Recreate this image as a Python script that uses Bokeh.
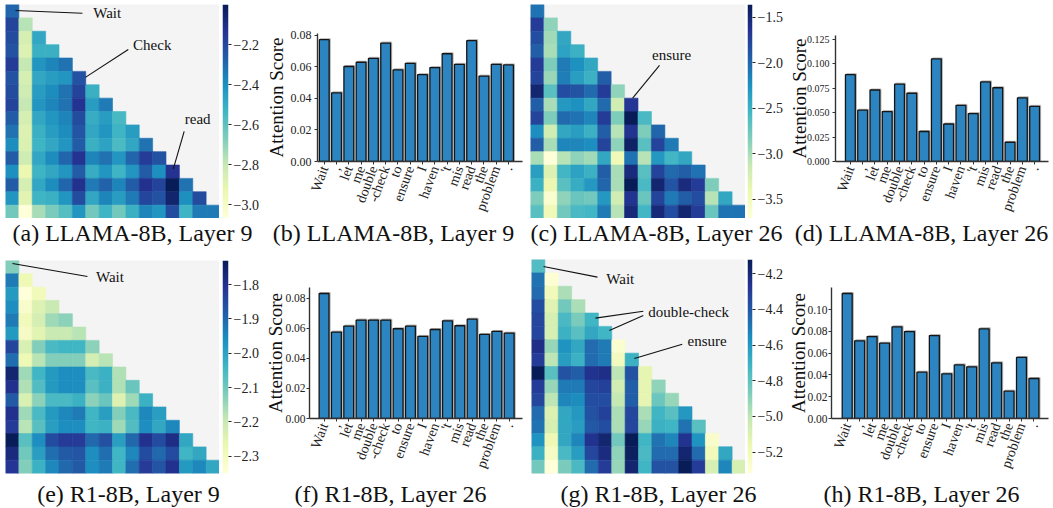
import numpy as np
from bokeh.plotting import figure
from bokeh.layouts import row, column
from bokeh.models import (ColumnDataSource, LinearColorMapper, FixedTicker,
                          CustomJSTickFormatter, Range1d, PrintfTickFormatter)
from bokeh.core.properties import value
from bokeh.transform import dodge
from bokeh.embed import file_html
from bokeh.resources import INLINE

# ---------------- data ----------------
tokens = ["Wait", ",", "let", "me", "double", "-check", "to", "ensure", "I",
          "haven", "'t", "mis", "read", "the", "problem", "."]

# log attention heatmaps (lower triangle, row i has i+1 values)
heat_llama_l9 = [
    [-2.29],
    [-2.18, -2.77],
    [-2.21, -2.85, -2.48],
    [-2.23, -2.88, -2.51, -2.51],
    [-2.16, -2.80, -2.42, -2.37, -2.32],
    [-2.23, -2.85, -2.48, -2.44, -2.42, -2.23],
    [-2.21, -2.83, -2.44, -2.39, -2.32, -2.18, -2.51],
    [-2.18, -2.80, -2.42, -2.37, -2.32, -2.13, -2.44, -2.34],
    [-2.26, -2.85, -2.48, -2.42, -2.37, -2.21, -2.50, -2.44, -2.55],
    [-2.32, -2.88, -2.51, -2.44, -2.39, -2.24, -2.48, -2.42, -2.53, -2.44],
    [-2.39, -2.87, -2.53, -2.48, -2.42, -2.26, -2.51, -2.46, -2.56, -2.48, -2.32],
    [-2.26, -2.83, -2.48, -2.39, -2.29, -2.13, -2.37, -2.32, -2.42, -2.29, -2.16, -2.23],
    [-2.40, -2.93, -2.53, -2.48, -2.42, -2.26, -2.50, -2.42, -2.53, -2.42, -2.26, -2.40, -2.13],
    [-2.26, -2.85, -2.48, -2.39, -2.29, -2.12, -2.34, -2.28, -2.37, -2.26, -2.12, -2.18, -2.00, -2.32],
    [-2.42, -2.90, -2.53, -2.51, -2.42, -2.21, -2.48, -2.37, -2.44, -2.34, -2.19, -2.23, -2.05, -2.40, -2.21],
    [-2.64, -3.07, -2.74, -2.66, -2.58, -2.42, -2.64, -2.53, -2.64, -2.51, -2.37, -2.42, -2.21, -2.53, -2.34, -2.34],
]
heat_llama_l26 = [
    [-2.07],
    [-1.71, -2.89],
    [-1.83, -2.96, -2.42],
    [-1.95, -3.00, -2.37, -2.49],
    [-1.71, -2.82, -2.11, -2.25, -2.42],
    [-1.76, -2.93, -2.14, -2.35, -2.49, -1.95],
    [-1.48, -2.65, -1.83, -1.88, -2.02, -1.71, -2.89],
    [-1.95, -3.00, -2.30, -2.25, -2.42, -2.02, -3.19, -1.67],
    [-1.76, -2.82, -2.02, -2.07, -2.18, -1.71, -2.82, -1.36, -2.58],
    [-2.23, -3.19, -2.42, -2.35, -2.49, -1.95, -3.05, -1.64, -2.82, -1.99],
    [-1.95, -3.00, -2.18, -2.18, -2.23, -1.76, -2.89, -1.43, -2.65, -1.76, -2.11],
    [-3.00, -3.71, -3.05, -2.89, -2.96, -2.42, -3.47, -2.07, -3.05, -2.30, -2.54, -2.42],
    [-2.35, -3.29, -2.54, -2.37, -2.49, -1.95, -3.00, -1.55, -2.65, -1.76, -2.02, -1.95, -2.07],
    [-2.49, -3.40, -2.65, -2.46, -2.30, -1.99, -3.00, -1.36, -2.58, -1.48, -1.88, -1.55, -1.71, -2.82],
    [-2.82, -3.62, -2.89, -2.72, -2.77, -2.30, -3.19, -1.64, -2.72, -1.76, -2.11, -1.95, -1.83, -3.05, -2.42],
    [-2.65, -3.47, -2.77, -2.58, -2.54, -2.11, -3.05, -1.52, -2.54, -1.52, -1.83, -1.48, -1.71, -2.72, -2.07, -2.07],
]
heat_r1_l9 = [
    [-2.12],
    [-1.93, -2.28],
    [-1.98, -2.35, -2.29],
    [-1.96, -2.32, -2.24, -2.20],
    [-1.93, -2.29, -2.22, -2.15, -2.13],
    [-1.98, -2.31, -2.25, -2.20, -2.20, -2.18],
    [-1.84, -2.23, -2.12, -2.05, -2.04, -2.04, -2.13],
    [-1.91, -2.28, -2.18, -2.12, -2.12, -2.12, -2.22, -2.18],
    [-1.76, -2.15, -2.04, -1.98, -1.96, -1.96, -2.05, -2.03, -2.17],
    [-1.80, -2.17, -2.06, -1.98, -1.96, -1.96, -2.07, -2.03, -2.17, -2.09],
    [-1.88, -2.23, -2.13, -2.05, -2.05, -2.03, -2.13, -2.09, -2.24, -2.15, -2.03],
    [-1.80, -2.15, -2.05, -1.98, -1.95, -1.93, -2.04, -1.99, -2.12, -2.05, -1.95, -1.99],
    [-1.82, -2.18, -2.07, -1.99, -1.96, -1.96, -2.04, -2.03, -2.15, -2.06, -1.96, -2.01, -1.95],
    [-1.73, -2.07, -1.96, -1.85, -1.82, -1.82, -1.90, -1.86, -1.99, -1.90, -1.80, -1.85, -1.79, -2.01],
    [-1.78, -2.10, -1.99, -1.91, -1.88, -1.87, -1.96, -1.91, -2.04, -1.95, -1.85, -1.90, -1.85, -2.04, -2.01],
    [-1.81, -2.12, -2.03, -1.95, -1.90, -1.88, -1.96, -1.93, -2.04, -1.91, -1.82, -1.87, -1.80, -1.98, -1.95, -2.01],
]
heat_r1_l26 = [
    [-4.76],
    [-4.48, -5.30],
    [-4.46, -5.20, -4.96],
    [-4.36, -5.12, -4.84, -4.96],
    [-4.34, -5.08, -4.74, -4.86, -4.72],
    [-4.34, -5.08, -4.70, -4.78, -4.66, -4.72],
    [-4.24, -4.92, -4.58, -4.66, -4.46, -4.50, -5.28],
    [-4.30, -5.00, -4.62, -4.70, -4.46, -4.50, -5.22, -4.70],
    [-4.12, -4.78, -4.38, -4.42, -4.26, -4.24, -5.00, -4.38, -5.14],
    [-4.30, -4.92, -4.50, -4.50, -4.34, -4.32, -5.06, -4.42, -5.14, -4.90],
    [-4.34, -5.00, -4.54, -4.56, -4.36, -4.36, -5.02, -4.42, -5.14, -4.82, -4.92],
    [-4.46, -5.10, -4.66, -4.60, -4.38, -4.32, -4.96, -4.34, -4.96, -4.72, -4.78, -4.60],
    [-4.48, -5.08, -4.66, -4.62, -4.40, -4.36, -4.96, -4.34, -4.92, -4.70, -4.72, -4.48, -4.78],
    [-4.58, -5.18, -4.66, -4.54, -4.26, -4.18, -4.84, -4.12, -4.72, -4.48, -4.54, -4.26, -4.58, -5.26],
    [-4.70, -5.24, -4.74, -4.62, -4.34, -4.22, -4.90, -4.14, -4.74, -4.46, -4.46, -4.18, -4.46, -5.20, -4.66],
    [-4.84, -5.32, -4.86, -4.74, -4.46, -4.30, -4.92, -4.18, -4.72, -4.38, -4.38, -4.12, -4.30, -5.08, -4.54, -5.08],
]
cbar_ticks_a = [-3.0, -2.8, -2.6, -2.4, -2.2]
cbar_ticks_c = [-3.5, -3.0, -2.5, -2.0, -1.5]
cbar_ticks_e = [-2.3, -2.2, -2.1, -2.0, -1.9, -1.8]
cbar_ticks_g = [-5.2, -5.0, -4.8, -4.6, -4.4, -4.2]

# attention scores (bar charts)
bar_llama_l9 = [0.0773, 0.0436, 0.0603, 0.0630, 0.0655, 0.0752, 0.0582, 0.0623,
                0.0551, 0.0596, 0.0684, 0.0617, 0.0767, 0.0542, 0.0617, 0.0613]
bar_llama_l26 = [0.0889, 0.0525, 0.0732, 0.0511, 0.0792, 0.0699, 0.0307, 0.1050,
                 0.0384, 0.0575, 0.0491, 0.0815, 0.0755, 0.0197, 0.0652, 0.0565]
bar_r1_l26_f = [0.0833, 0.0576, 0.0616, 0.0656, 0.0656, 0.0656, 0.0598, 0.0616,
                0.0547, 0.0593, 0.0651, 0.0618, 0.0662, 0.0560, 0.0580, 0.0569]
bar_r1_l26_h = [0.1147, 0.0713, 0.0752, 0.0691, 0.0841, 0.0798, 0.0425, 0.0761,
                0.0410, 0.0492, 0.0474, 0.0823, 0.0511, 0.0251, 0.0560, 0.0367]
yticks_b = [0.00, 0.02, 0.04, 0.06, 0.08]
yticks_d = [0.000, 0.025, 0.050, 0.075, 0.100, 0.125]
yticks_f = [0.00, 0.02, 0.04, 0.06, 0.08]
yticks_h = [0.00, 0.02, 0.04, 0.06, 0.08, 0.10]

captions_top = ["(a) LLAMA-8B, Layer 9", "(b) LLAMA-8B, Layer 9",
                "(c) LLAMA-8B, Layer 26", "(d) LLAMA-8B, Layer 26"]
captions_bottom = ["(e) R1-8B, Layer 9", "(f) R1-8B, Layer 26",
                   "(g) R1-8B, Layer 26", "(h) R1-8B, Layer 26"]

# ---------------- style ----------------
SERIF = "Liberation Serif"
YLGNBU = ["#ffffd9", "#edf8b1", "#c7e9b4", "#7fcdbb", "#41b6c4",
          "#1d91c0", "#225ea8", "#253494", "#081d58"]
TOTAL_W = 1053


def interp_palette(pal, n=256):
    rgb = np.array([[int(c[i:i + 2], 16) for i in (1, 3, 5)] for c in pal], float)
    xs = np.linspace(0, 1, len(pal))
    t = np.linspace(0, 1, n)
    out = np.stack([np.interp(t, xs, rgb[:, k]) for k in range(3)], 1)
    return ["#%02x%02x%02x" % tuple(int(round(v)) for v in r) for r in out]


PAL = interp_palette(YLGNBU)
N = len(tokens)


def base_fig(width, height, left, right, top, bottom, **kw):
    p = figure(width=width, height=height, toolbar_location=None, output_backend="svg",
               min_border_left=left, min_border_right=right,
               min_border_top=top, min_border_bottom=bottom, frame_align=False, **kw)
    p.grid.visible = False
    p.outline_line_color = None
    p.border_fill_color = "white"
    return p


def make_heatmap(mat, ticks, width, height, left, top, fh, cbw, cb_left, annots):
    fw = width - left
    p = base_fig(width, height, left, 0, top, height - top - fh,
                 x_range=Range1d(0, N), y_range=Range1d(N, 0),
                 x_axis_location=None, y_axis_location=None)
    p.background_fill_color = "#f4f4f4"
    xs, ys, vs = [], [], []
    for r, rv in enumerate(mat):
        for c, v in enumerate(rv):
            xs.append(c + 0.5)
            ys.append(r + 0.5)
            vs.append(v)
    lo, hi = min(vs), max(vs)
    mapper = LinearColorMapper(palette=PAL, low=lo, high=hi)
    src = ColumnDataSource(dict(x=xs, y=ys, v=vs))
    p.rect("x", "y", 1, 1, source=src,
           fill_color={"field": "v", "transform": mapper},
           line_color={"field": "v", "transform": mapper}, line_width=0.6)
    for txt, segs, tpos in annots:
        for (x0, y0, x1, y1) in segs:
            p.segment(x0=[x0], y0=[y0], x1=[x1], y1=[y1], line_color="#111111", line_width=1.1)
        p.text(x=[tpos[0]], y=[tpos[1]], text=[txt], text_font=value(SERIF),
               text_font_size="15px", text_align="center", text_baseline="middle",
               text_color="#111111")

    # colour bar as its own narrow figure
    cb = base_fig(cbw, height, cb_left, cbw - cb_left - 6, top, height - top - fh,
                  x_range=Range1d(0, 1), y_range=Range1d(lo, hi),
                  x_axis_location=None, y_axis_location="right")
    grad = np.linspace(lo, hi, 256).reshape(256, 1)
    cb.image(image=[grad], x=0, y=lo, dw=1, dh=hi - lo, color_mapper=mapper)
    ax = cb.yaxis[0]
    ax.ticker = FixedTicker(ticks=ticks)
    ax.formatter = CustomJSTickFormatter(
        code="return (tick < 0 ? '\\u2212' : '') + Math.abs(tick).toFixed(1);")
    ax.axis_line_color = None
    ax.major_tick_in = 0
    ax.major_tick_out = 3
    ax.major_tick_line_color = "#222222"
    ax.minor_tick_line_color = None
    ax.major_label_standoff = 2
    ax.major_label_text_font = SERIF
    ax.major_label_text_font_size = "14px"
    ax.major_label_text_color = "#222222"
    return p, cb


def make_bar(vals, yticks, fmt, yend, xr, width, height, left, fw, top, fh, tick_fs,
             tick_standoff, lab_standoff):
    p = base_fig(width, height, left, width - left - fw, top, height - top - fh,
                 x_range=Range1d(*xr), y_range=Range1d(0, yend))
    src = ColumnDataSource(dict(x=list(range(N)), top=vals))
    p.vbar(x=dodge("x", 0.09), top=dodge("top", yend / fh * 1.0), width=0.8, source=src,
           fill_color="#b5b5b5", line_color="#b5b5b5", line_width=1.0)
    p.vbar(x="x", top="top", width=0.8, source=src, fill_color="#2c84c0",
           line_color="#151515", line_width=1.3)
    for ax in (p.xaxis[0], p.yaxis[0]):
        ax.axis_line_color = "#333333"
        ax.axis_line_width = 1.4
        ax.major_tick_line_color = "#333333"
        ax.major_tick_in = 0
        ax.major_tick_out = 3
        ax.minor_tick_line_color = None
        ax.major_label_text_font = SERIF
        ax.major_label_text_color = "#222222"
    p.xaxis.ticker = FixedTicker(ticks=list(range(N)))
    p.xaxis.major_label_overrides = {i: t for i, t in enumerate(tokens)}
    p.xaxis.major_label_orientation = np.deg2rad(70)
    p.xaxis.major_label_text_font_size = "14px"
    p.xaxis.major_label_standoff = 2
    p.yaxis.ticker = FixedTicker(ticks=yticks)
    p.yaxis.formatter = PrintfTickFormatter(format=fmt)
    p.yaxis.major_label_text_font_size = tick_fs
    p.yaxis.major_label_standoff = tick_standoff
    p.yaxis.axis_label = "Attention Score"
    p.yaxis.axis_label_text_font = SERIF
    p.yaxis.axis_label_text_font_style = "normal"
    p.yaxis.axis_label_text_font_size = "19px"
    p.yaxis.axis_label_text_color = "#111111"
    p.yaxis.axis_label_standoff = lab_standoff
    return p


def caption_strip(height, mid, centers, texts):
    # y measured downward from the strip's top edge, in pixels
    p = base_fig(TOTAL_W, height, 0, 0, 0, 0, x_range=Range1d(0, TOTAL_W),
                 y_range=Range1d(height, 0), x_axis_location=None, y_axis_location=None)
    p.text(x=centers, y=[mid] * len(texts), text=texts, text_font=value(SERIF),
           text_font_size="24px", text_align="center", text_baseline="middle",
           text_color="#111111")
    return p


# annotations: (text, [segments], text position) in cell units
ann_a = [("Wait", [(0.75, 0.45, 5.75, 0.65)], (7.6, 0.67)),
         ("Check", [(5.97, 5.45, 9.18, 3.36)], (10.97, 3.06)),
         ("read", [(12.54, 12.31, 13.36, 9.48)], (14.37, 8.58))]
ann_c = [("ensure", [(7.6, 7.0, 9.6, 4.55)], (10.5, 3.8))]
ann_e = [("Wait", [(0.52, 0.23, 6.13, 1.2)], (7.81, 1.25))]
ann_g = [("Wait", [(0.9, 0.52, 4.93, 1.32)], (6.64, 1.44)),
         ("double-check", [(4.78, 4.38, 8.36, 3.87), (5.82, 5.3, 8.36, 4.18)], (11.75, 3.93)),
         ("ensure", [(7.69, 7.4, 11.27, 6.34)], (13.13, 6.1))]

H1, H2 = 218, 234
fa, fa_cb = make_heatmap(heat_llama_l9, cbar_ticks_a, 219, H1, 5, 4, 214, 43, 3, ann_a)
fb = make_bar(bar_llama_l9, yticks_b, "%.2f", 0.08125, (-0.55, 16.14), 263, H1, 52, 208, 33, 130,
              "12px", 3, 1)
fc, fc_cb = make_heatmap(heat_llama_l26, cbar_ticks_c, 220, H1, 5, 4, 214, 40, 2, ann_c)
fd = make_bar(bar_llama_l26, yticks_d, "%.3f", 0.129, (-1.21, 16.13), 268, H1, 50, 213, 35, 129,
              "10px", 3, -6)

fe, fe_cb = make_heatmap(heat_r1_l9, cbar_ticks_e, 219, H2, 5, 14, 213, 43, 3, ann_e)
ff = make_bar(bar_r1_l26_f, yticks_f, "%.2f", 0.0873, (-1.18, 16.08), 263, H2, 44, 216, 41, 131,
              "11.5px", 1, -4)
fg, fg_cb = make_heatmap(heat_r1_l26, cbar_ticks_g, 220, H2, 6, 13, 214, 40, 2, ann_g)
fh_ = make_bar(bar_r1_l26_h, yticks_h, "%.2f", 0.1202, (-1.26, 16.17), 268, H2, 46, 217, 41, 131,
               "11.5px", 1, -5)

cap1 = caption_strip(28, 14.5, [132, 393, 656, 921], captions_top)
cap2 = caption_strip(28, 13.5, [128, 390, 658, 921], captions_bottom)

layout = column(row(fa, fa_cb, fb, fc, fc_cb, fd), cap1,
                row(fe, fe_cb, ff, fg, fg_cb, fh_), cap2)

with open("out.html", "w", encoding="utf-8") as f:
    f.write(file_html(layout, INLINE))
